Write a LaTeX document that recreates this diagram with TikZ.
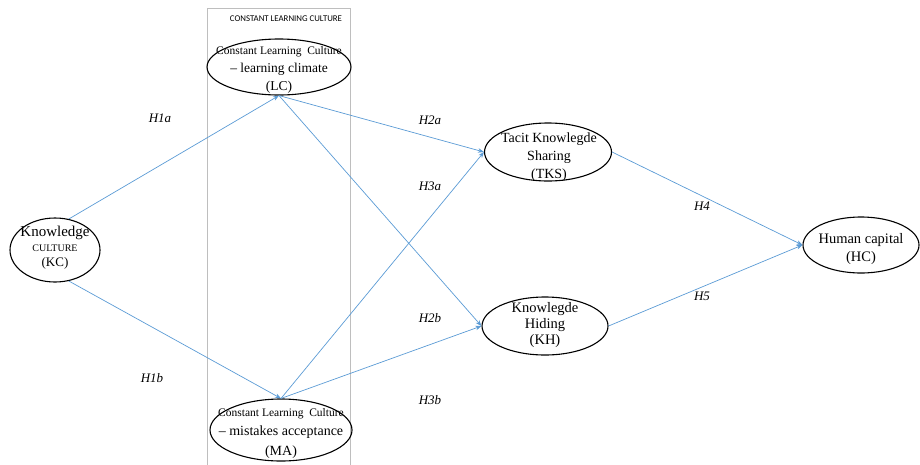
\documentclass[tikz,border=0pt]{standalone}
\usepackage{fontspec}
\setmainfont{Liberation Serif}
\newfontfamily\boxfont{Carlito}
\usetikzlibrary{shapes.geometric,arrows.meta}
\definecolor{arrblue}{RGB}{91,155,213}
\definecolor{boxgray}{RGB}{190,190,190}
\tikzset{
  oval/.style={ellipse, draw=black, line width=1.1pt, inner sep=0pt},
  txt/.style={align=center, inner sep=0pt},
  link/.style={draw=arrblue, line width=0.7pt, -{Stealth[length=6pt,width=4.5pt]}},
  hyp/.style={font=\itshape\fontsize{13}{15}\selectfont, inner sep=0pt}
}
\begin{document}
\begin{tikzpicture}[x=1pt,y=-1pt]
\useasboundingbox (0,0) rectangle (920,464);
% group box
\node[draw=boxgray, line width=0.7pt, minimum width=143pt, minimum height=458pt, inner sep=0pt, anchor=north west] (box) at (207,8) {};
\node[txt, font=\boxfont\fontsize{8.8}{10}\selectfont] (boxlab) at (286,19) {CONSTANT LEARNING CULTURE};
% ellipses
\node[oval, minimum width=144pt, minimum height=56pt] (LC) at (279,67) {};
\node[txt, font=\fontsize{13.5}{18}\selectfont] (LCt) at (279,70) {{\fontsize{11.5}{18}\selectfont Constant Learning\ \ Culture}\\-- learning climate\\(LC)};
\node[oval, minimum width=142pt, minimum height=62pt] (MA) at (281,430) {};
\node[txt, font=\fontsize{14}{19.5}\selectfont] (MAt) at (281,433) {{\fontsize{11.5}{19.5}\selectfont Constant Learning\ \ Culture}\\-- mistakes acceptance\\(MA)};
\node[oval, minimum width=90pt, minimum height=64pt] (KC) at (55,250) {};
\node[txt, font=\fontsize{13}{15}\selectfont] (KCt) at (55,248) {{\fontsize{15}{15}\selectfont Knowledge}\\{\fontsize{10}{15}\selectfont CULTURE}\\(KC)};
\node[oval, minimum width=127pt, minimum height=58pt] (TKS) at (548,152) {};
\node[txt, font=\fontsize{14}{18}\selectfont] (TKSt) at (549,157) {Tacit Knowlegde\\Sharing\\(TKS)};
\node[oval, minimum width=126pt, minimum height=58pt] (KH) at (545,326) {};
\node[txt, font=\fontsize{14.5}{16}\selectfont] (KHt) at (545,325) {Knowlegde\\Hiding\\(KH)};
\node[oval, minimum width=116pt, minimum height=56pt] (HC) at (861,245) {};
\node[txt, font=\fontsize{14.5}{18}\selectfont] (HCt) at (861,249) {Human capital\\(HC)};
% connectors
\draw[link] (KC.66) -- (LC.south);
\draw[link] (KC.-66) -- (MA.north);
\draw[link] (LC.south) -- (TKS.west);
\draw[link] (LC.south) -- (KH.west);
\draw[link] (MA.north) -- (TKS.west);
\draw[link] (MA.north) -- (KH.west);
\draw[link] (TKS.east) -- (HC.west);
\draw[link] (KH.east) -- (HC.west);
% hypothesis labels
\node[hyp] (h1a) at (160,118) {H1a};
\node[hyp] (h1b) at (152,378) {H1b};
\node[hyp] (h2a) at (430,120) {H2a};
\node[hyp] (h3a) at (430,186) {H3a};
\node[hyp] (h2b) at (430,318) {H2b};
\node[hyp] (h3b) at (430,400) {H3b};
\node[hyp] (h4) at (702,206) {H4};
\node[hyp] (h5) at (702,296) {H5};
\end{tikzpicture}
\end{document}
